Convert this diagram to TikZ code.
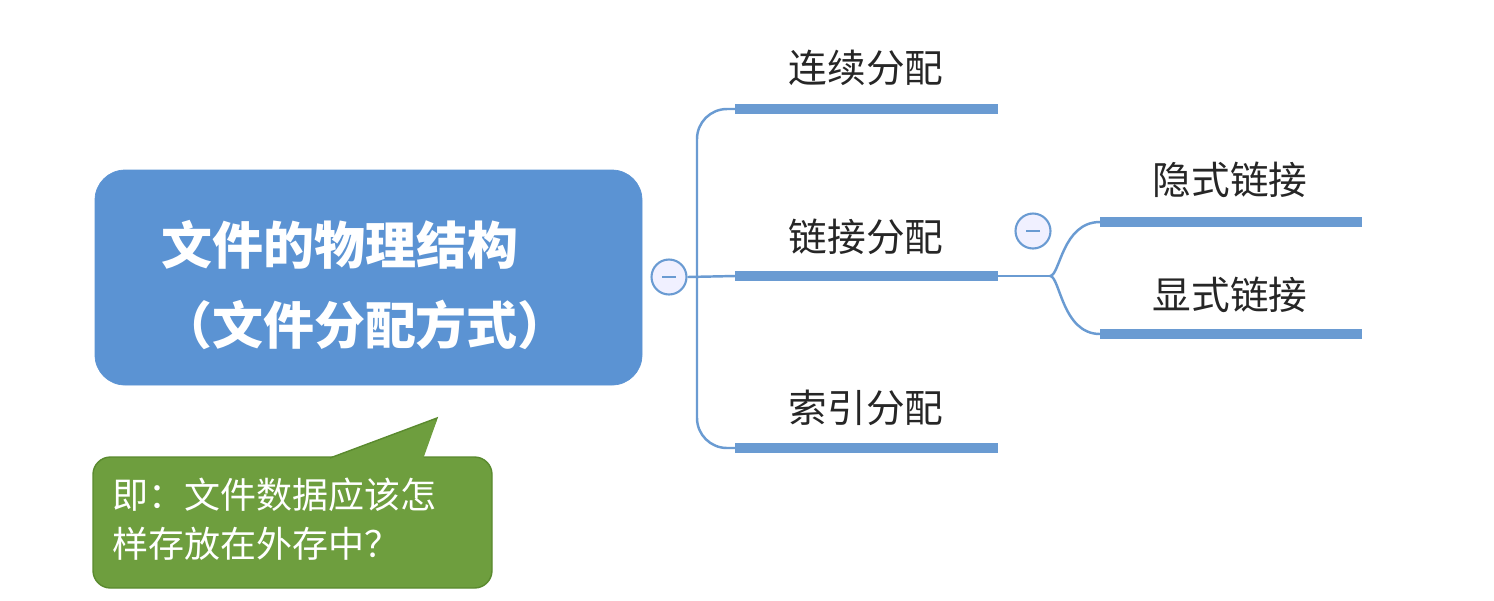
\documentclass[tikz,border=0pt]{standalone}
\usepackage{fontspec}
\setmainfont{Noto Sans CJK SC}
\usepackage{tikz}
\definecolor{mapblue}{HTML}{5B93D3}
\definecolor{lineblue}{HTML}{6A9BD2}
\definecolor{notegreen}{HTML}{6E9E3E}
\definecolor{noteedge}{HTML}{5A8A2E}
\tikzset{
  topic/.style={font=\fontsize{22}{26}\selectfont, text=black!85},
  under/.style={line width=6pt, lineblue},
  branch/.style={line width=1.4pt, lineblue},
  fold/.style={circle, draw=lineblue, line width=1.2pt, fill=blue!6, minimum size=0.7cm, inner sep=0pt}
}
\begin{document}
\begin{tikzpicture}[x=0.02cm, y=-0.02cm]
        \useasboundingbox (0,0) rectangle (1494,600);
        % central topic
        \draw [fill=mapblue, draw=mapblue, rounded corners=0.6cm] (95,170) rectangle (642,385);
        \node (main) [text=white, font=\fontsize{29}{34}\selectfont\bfseries] at (340,245) {文件的物理结构};
        \node (sub) [text=white, font=\fontsize{29}{34}\selectfont\bfseries] at (365,325) {（文件分配方式）};
        % callout
        \draw [fill=notegreen, draw=noteedge, line width=0.8pt, rounded corners=0.35cm]
              (93,457) rectangle (492,588);
        \draw [fill=notegreen, draw=noteedge, line width=0.8pt] (330,458) -- (437,418) -- (420,458);
        \fill [notegreen] (328,462) -- (437,420) -- (422,462) -- cycle;
        \node (note) [text=white, align=left, font=\fontsize{20.5}{27.5}\selectfont, anchor=north west]
              at (106,472) {即：文件数据应该怎\\样存放在外存中？};
        % first level
        \node (f1) [fold] at (669,277) {};
        \draw [branch] (f1.center) ++(-7,0) -- ++(14,0);
        \draw [branch] (f1.east) -- (735,276);
        \draw [branch, rounded corners=0.6cm] (735,109) -- (697,109) -- (697,448) -- (735,448);
        \draw [under] (735,109) -- (998,109);
        \draw [under] (735,276) -- (998,276);
        \draw [under] (735,448) -- (998,448);
        \node (lx) [topic] at (866,68)  {连续分配};
        \node (lj) [topic] at (866,237) {链接分配};
        \node (sy) [topic] at (866,408) {索引分配};
        % second level
        \node (f2) [fold] at (1033,231) {};
        \draw [branch] (f2.center) ++(-7,0) -- ++(14,0);
        \draw [branch] (998,276) -- (1050,276);
        \draw [branch] (1050,276) .. controls (1060,276) and (1062,222) .. (1100,222);
        \draw [branch] (1050,276) .. controls (1060,276) and (1062,334) .. (1100,334);
        \draw [under] (1100,222) -- (1362,222);
        \draw [under] (1100,334) -- (1362,334);
        \node (ys) [topic] at (1230,180) {隐式链接};
        \node (xs) [topic] at (1230,295) {显式链接};
\end{tikzpicture}
\end{document}
